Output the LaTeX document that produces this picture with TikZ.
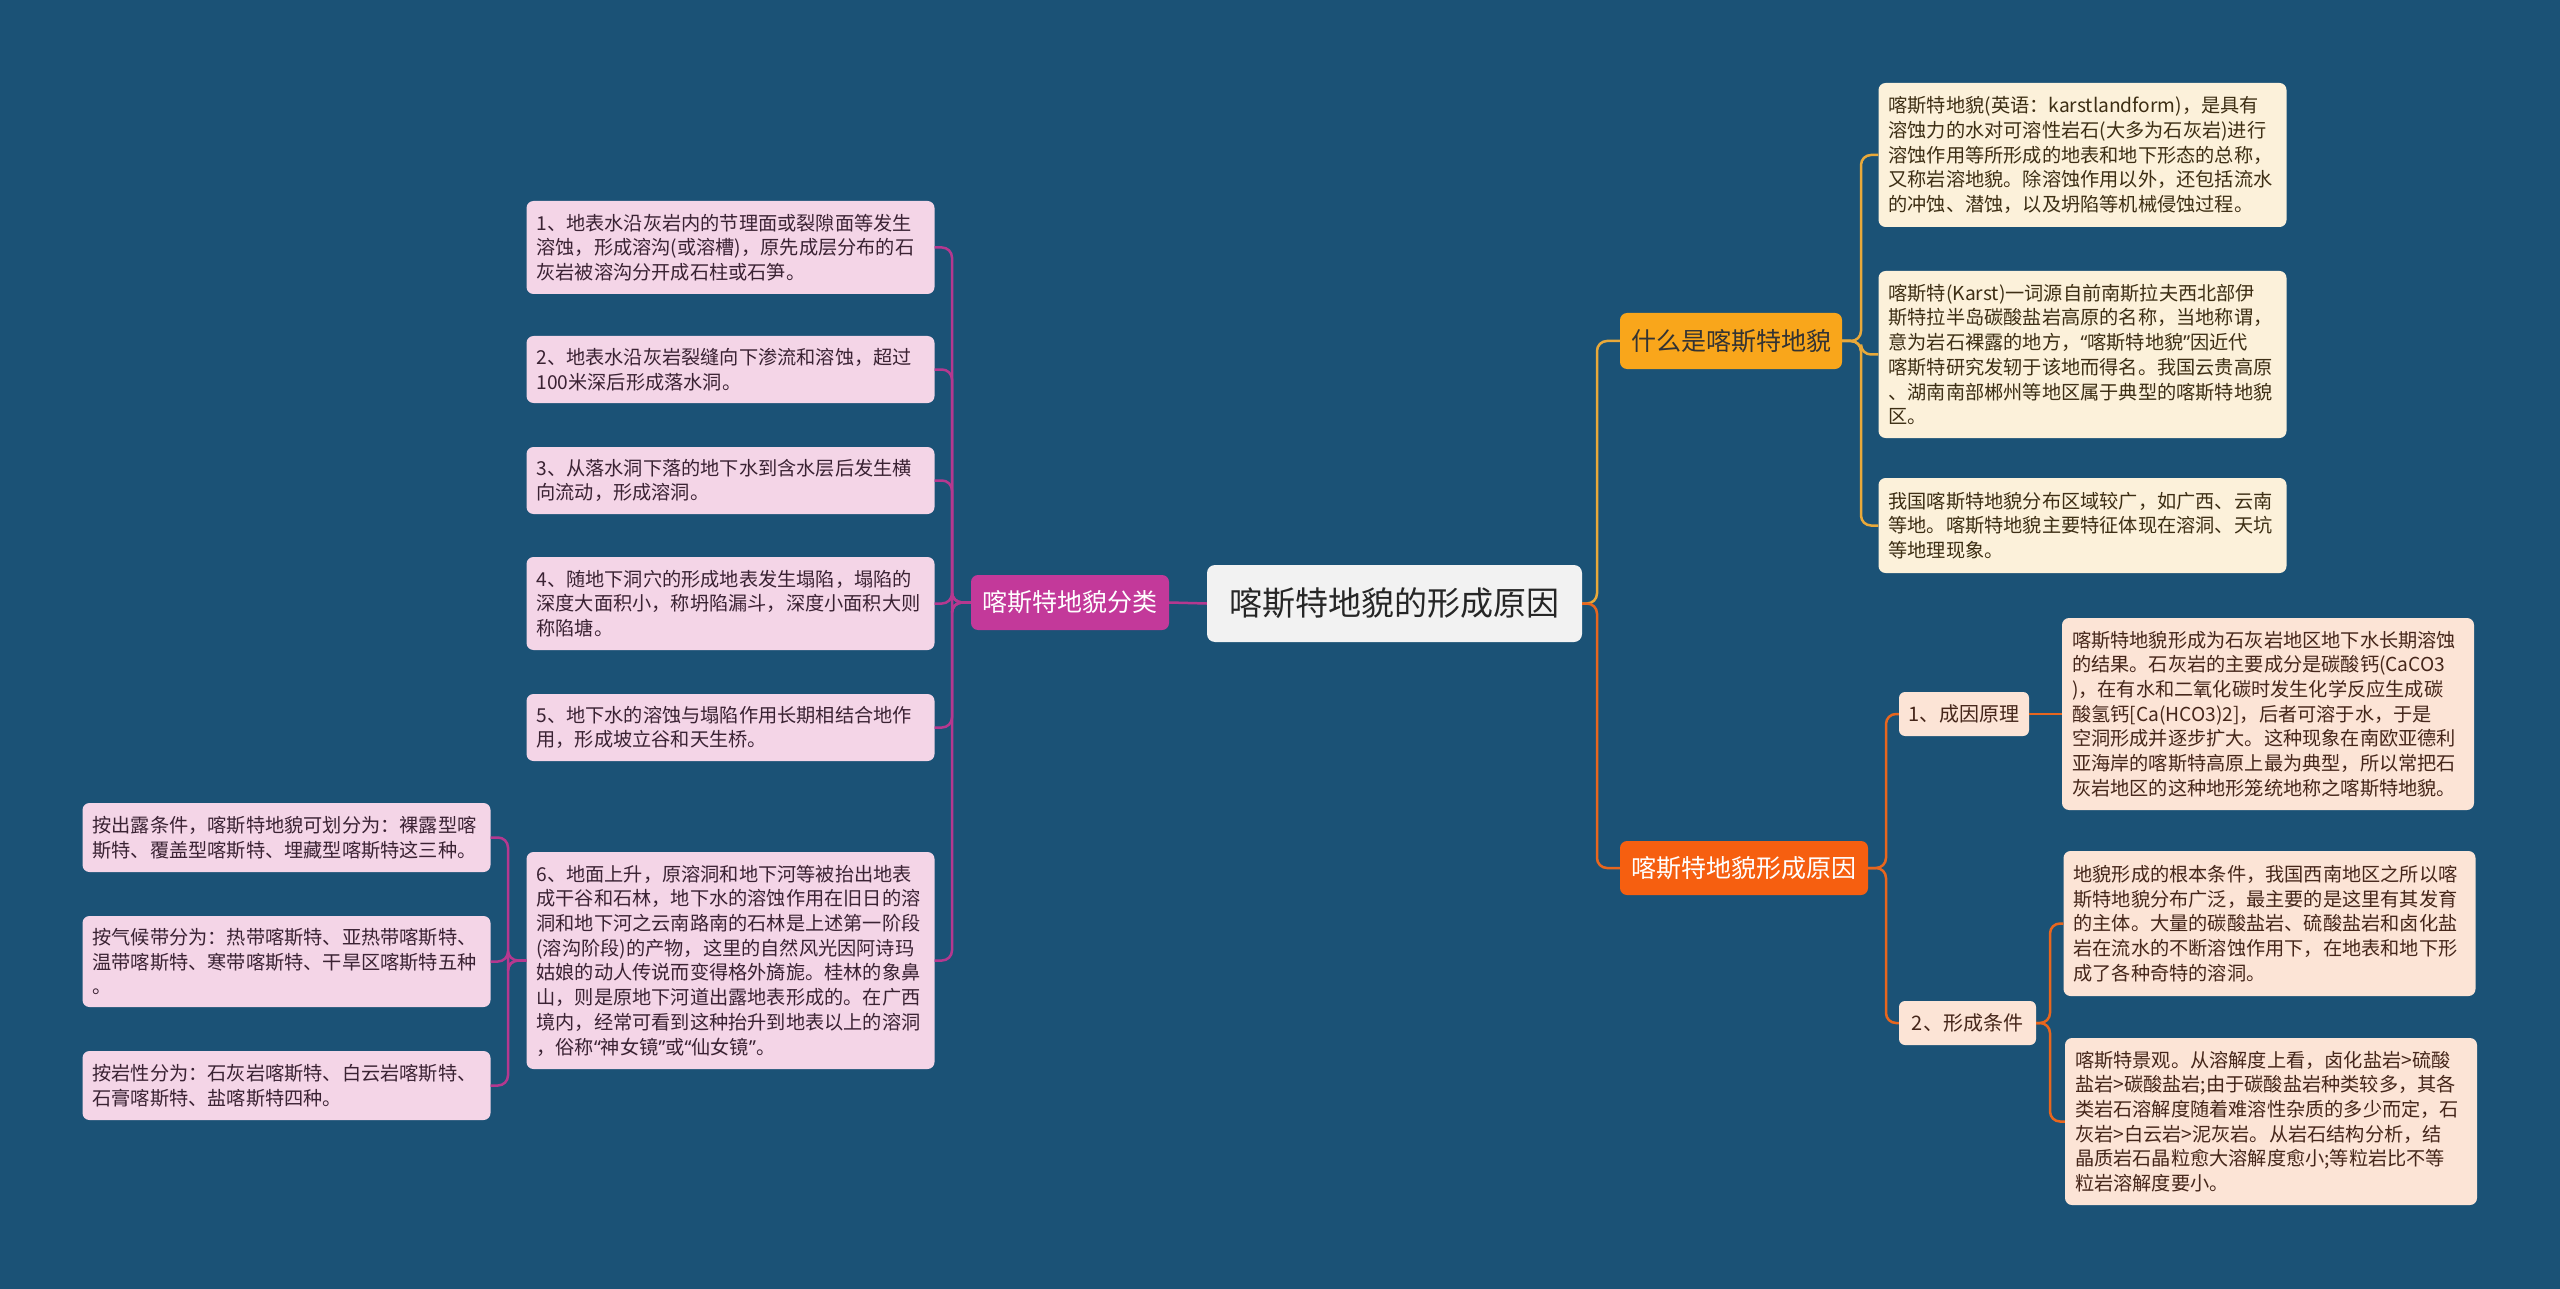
\documentclass[tikz,border=0pt]{standalone}
\usepackage{fontspec}
\setmainfont{Noto Sans CJK SC}
\newfontfamily\quotefont{Noto Sans}

\definecolor{bgblue}{HTML}{1B5276}
\definecolor{rootfill}{HTML}{F2F2F2}
\definecolor{goldfill}{HTML}{F9A61B}
\definecolor{goldline}{HTML}{E9A93A}
\definecolor{redfill}{HTML}{F65F10}
\definecolor{redline}{HTML}{E8661E}
\definecolor{magfill}{HTML}{C3399A}
\definecolor{magline}{HTML}{B5388F}
\definecolor{cream}{HTML}{FCF1DA}
\definecolor{peach}{HTML}{FCE4D6}
\definecolor{pink}{HTML}{F4D5E7}
\definecolor{creamtext}{HTML}{3D2E14}
\definecolor{peachtext}{HTML}{45261A}
\definecolor{pinktext}{HTML}{3A2233}

\tikzset{
  box/.style={rounded corners=7pt, align=left, inner xsep=10pt, inner ysep=6pt,
    font=\fontsize{19.2}{24.7}\selectfont},
  leafcream/.style={box, fill=cream, text=creamtext, text width=388pt, minimum height=#1},
  leafpeach/.style={box, fill=peach, text=peachtext, text width=392pt, minimum height=#1},
  leafpink/.style={box, fill=pink, text=pinktext, text width=388pt, minimum height=#1},
  topic/.style={rounded corners=7pt, inner sep=0pt, font=\fontsize{25}{30}\selectfont},
  subtopic/.style={rounded corners=6pt, inner sep=0pt, fill=peach, text=peachtext,
    minimum height=44pt, font=\fontsize{20}{24}\selectfont},
  link/.style={line width=2.5pt, rounded corners=10pt}
}

\begin{document}
\begin{tikzpicture}[x=1pt, y=-1pt]
    % Background
    \fill[bgblue] (0,0) rectangle (2560,1289);
    \useasboundingbox (0,0) rectangle (2560,1289);

    % Root
    \node[rounded corners=8pt, fill=rootfill, text=black!85, minimum width=375pt, minimum height=77pt,
      inner sep=0pt, font=\fontsize{33}{40}\selectfont] (root) at (1394.5,603.5) {喀斯特地貌的形成原因};

    % Main topics
    \node[topic, fill=goldfill, text=black!80, minimum width=222pt, minimum height=56pt] (what) at (1731,341) {什么是喀斯特地貌};
    \node[topic, fill=redfill, text=white, minimum width=248pt, minimum height=54pt] (cause) at (1744,868) {喀斯特地貌形成原因};
    \node[topic, fill=magfill, text=white, minimum width=198pt, minimum height=55pt] (kinds) at (1070,602.5) {喀斯特地貌分类};

    % What is karst
    \node[leafcream=144pt] (what1) at (2082.5,155) {喀斯特地貌(英语：karstlandform)，是具有\\
溶蚀力的水对可溶性岩石(大多为石灰岩)进行\\
溶蚀作用等所形成的地表和地下形态的总称，\\
又称岩溶地貌。除溶蚀作用以外，还包括流水\\
的冲蚀、潜蚀，以及坍陷等机械侵蚀过程。};
    \node[leafcream=167pt] (what2) at (2082.5,354.5) {喀斯特(Karst)一词源自前南斯拉夫西北部伊\\
斯特拉半岛碳酸盐岩高原的名称，当地称谓，\\
意为岩石裸露的地方，{\quotefont “}喀斯特地貌{\quotefont ”}因近代\\
喀斯特研究发轫于该地而得名。我国云贵高原\\
、湖南南部郴州等地区属于典型的喀斯特地貌\\
区。};
    \node[leafcream=95pt] (what3) at (2082.5,525.5) {我国喀斯特地貌分布区域较广，如广西、云南\\
等地。喀斯特地貌主要特征体现在溶洞、天坑\\
等地理现象。};

    % Causes
    \node[subtopic, minimum width=130pt] (reason) at (1964,714) {1、成因原理};
    \node[subtopic, minimum width=137pt] (cond) at (1967.5,1023) {2、形成条件};

    \node[leafpeach=192pt] (reason1) at (2268,714) {喀斯特地貌形成为石灰岩地区地下水长期溶蚀\\
的结果。石灰岩的主要成分是碳酸钙(CaCO3\\
)，在有水和二氧化碳时发生化学反应生成碳\\
酸氢钙[Ca(HCO3)2]，后者可溶于水，于是\\
空洞形成并逐步扩大。这种现象在南欧亚德利\\
亚海岸的喀斯特高原上最为典型，所以常把石\\
灰岩地区的这种地形笼统地称之喀斯特地貌。};
    \node[leafpeach=145pt] (cond1) at (2269.5,923.5) {地貌形成的根本条件，我国西南地区之所以喀\\
斯特地貌分布广泛，最主要的是这里有其发育\\
的主体。大量的碳酸盐岩、硫酸盐岩和卤化盐\\
岩在流水的不断溶蚀作用下，在地表和地下形\\
成了各种奇特的溶洞。};
    \node[leafpeach=167pt] (cond2) at (2271,1121.5) {喀斯特景观。从溶解度上看，卤化盐岩>硫酸\\
盐岩>碳酸盐岩;由于碳酸盐岩种类较多，其各\\
类岩石溶解度随着难溶性杂质的多少而定，石\\
灰岩>白云岩>泥灰岩。从岩石结构分析，结\\
晶质岩石晶粒愈大溶解度愈小;等粒岩比不等\\
粒岩溶解度要小。};

    % Kinds
    \node[leafpink=93pt] (k1) at (730.5,247.5) {1、地表水沿灰岩内的节理面或裂隙面等发生\\
溶蚀，形成溶沟(或溶槽)，原先成层分布的石\\
灰岩被溶沟分开成石柱或石笋。};
    \node[leafpink=67pt] (k2) at (730.5,369.5) {2、地表水沿灰岩裂缝向下渗流和溶蚀，超过\\
100米深后形成落水洞。};
    \node[leafpink=67pt] (k3) at (730.5,480.5) {3、从落水洞下落的地下水到含水层后发生横\\
向流动，形成溶洞。};
    \node[leafpink=93pt] (k4) at (730.5,603.5) {4、随地下洞穴的形成地表发生塌陷，塌陷的\\
深度大面积小，称坍陷漏斗，深度小面积大则\\
称陷塘。};
    \node[leafpink=67pt] (k5) at (730.5,727.5) {5、地下水的溶蚀与塌陷作用长期相结合地作\\
用，形成坡立谷和天生桥。};
    \node[leafpink=217pt] (k6) at (730.5,960.5) {6、地面上升，原溶洞和地下河等被抬出地表\\
成干谷和石林，地下水的溶蚀作用在旧日的溶\\
洞和地下河之云南路南的石林是上述第一阶段\\
(溶沟阶段)的产物，这里的自然风光因阿诗玛\\
姑娘的动人传说而变得格外旖旎。桂林的象鼻\\
山，则是原地下河道出露地表形成的。在广西\\
境内，经常可看到这种抬升到地表以上的溶洞\\
，俗称{\quotefont “}神女镜{\quotefont ”}或{\quotefont “}仙女镜{\quotefont ”}。};

    \node[leafpink=69pt] (t1) at (286.5,837.5) {按出露条件，喀斯特地貌可划分为：裸露型喀\\
斯特、覆盖型喀斯特、埋藏型喀斯特这三种。};
    \node[leafpink=91pt] (t2) at (286.5,961.5) {按气候带分为：热带喀斯特、亚热带喀斯特、\\
温带喀斯特、寒带喀斯特、干旱区喀斯特五种\\
。};
    \node[leafpink=69pt] (t3) at (286.5,1085.5) {按岩性分为：石灰岩喀斯特、白云岩喀斯特、\\
石膏喀斯特、盐喀斯特四种。};

    % Trunks
    \coordinate (jroot) at (1597,0);
    \coordinate (jwhat) at (1861,0);
    \coordinate (jcause) at (1886,0);
    \coordinate (jcond) at (2050,0);
    \coordinate (jkinds) at (952,0);
    \coordinate (jk6) at (508,0);

    % Links right
    \draw[link, goldline] (root.east) -- (root.east -| jroot) |- (what.west);
    \draw[link, redline] (root.east) -- (root.east -| jroot) |- (cause.west);
    \foreach \n in {what1,what2,what3}
      \draw[link, goldline] (what.east) -- (what.east -| jwhat) |- (\n.west);
    \foreach \n in {reason,cond}
      \draw[link, redline] (cause.east) -- (cause.east -| jcause) |- (\n.west);
    \draw[link, redline] (reason.east) -- (reason1.west);
    \foreach \n in {cond1,cond2}
      \draw[link, redline] (cond.east) -- (cond.east -| jcond) |- (\n.west);

    % Links left
    \draw[link, magline] (root.west) -- (kinds.east);
    \foreach \n in {k1,k2,k3,k4,k5,k6}
      \draw[link, magline] (kinds.west) -- (kinds.west -| jkinds) |- (\n.east);
    \foreach \n in {t1,t2,t3}
      \draw[link, magline] (k6.west) -- (k6.west -| jk6) |- (\n.east);
\end{tikzpicture}
\end{document}
